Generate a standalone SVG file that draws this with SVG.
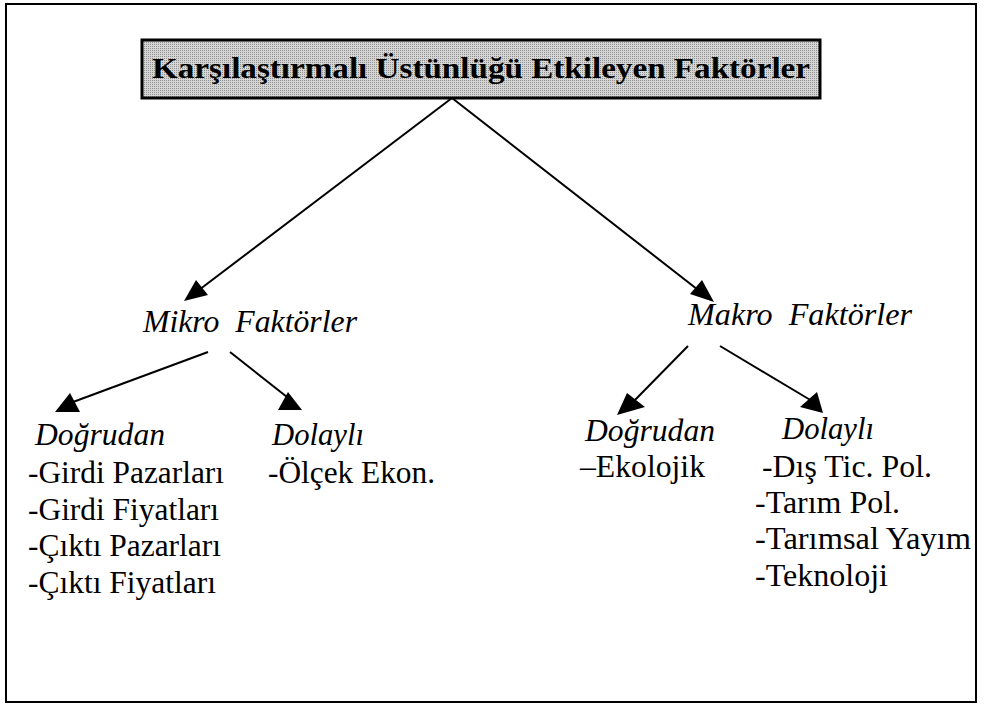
<svg xmlns="http://www.w3.org/2000/svg" width="984" height="707" viewBox="0 0 984 707">
<defs>
<pattern id="stip" width="2" height="2" patternUnits="userSpaceOnUse">
<rect width="2" height="2" fill="#d6d6d6"/>
<rect width="1" height="1" fill="#8e8e8e"/>
</pattern>
</defs>
<style>
.s{font-family:'Liberation Serif','Times New Roman',serif;fill:#000;font-size:31px}
.i{font-style:italic}
.ln{stroke:#000;stroke-width:2;fill:none}
.hd{fill:#000;stroke:none}
</style>
<rect width="984" height="707" fill="#fff"/>
<rect x="6" y="4" width="970" height="698" fill="none" stroke="#000" stroke-width="2"/>
<g id="connectors">
<line class="ln" x1="452" y1="98" x2="195" y2="293"/>
<polygon class="hd" points="184,301 196,280 208,295"/>
<line class="ln" x1="452" y1="98" x2="702" y2="293"/>
<polygon class="hd" points="714,302 690,294 702,280"/>
<line class="ln" x1="208" y1="352" x2="73" y2="402"/>
<polygon class="hd" points="55,412 80,412 70,393"/>
<line class="ln" x1="230" y1="352" x2="287" y2="397"/>
<polygon class="hd" points="278,410 302,410 288,392"/>
<line class="ln" x1="688" y1="346" x2="635" y2="400"/>
<polygon class="hd" points="617,415 627,393 645,407"/>
<line class="ln" x1="720" y1="346" x2="812" y2="401"/>
<polygon class="hd" points="823,413 800,407 817,392"/>
</g>
<g id="title">
<rect x="142" y="40" width="678" height="58" fill="url(#stip)" stroke="#000" stroke-width="3"/>
<text class="s" x="152" y="78" style="font-size:29px" font-weight="bold" textLength="658" lengthAdjust="spacingAndGlyphs">Karşılaştırmalı Üstünlüğü Etkileyen Faktörler</text>
</g>
<g id="mikro">
<text class="s i" x="143" y="332" textLength="214" lengthAdjust="spacingAndGlyphs" xml:space="preserve">Mikro  Faktörler</text>
</g>
<g id="makro">
<text class="s i" x="688" y="325" textLength="224" lengthAdjust="spacingAndGlyphs" xml:space="preserve">Makro  Faktörler</text>
</g>
<g id="mikro-dogrudan">
<text class="s i" x="35" y="445" textLength="130" lengthAdjust="spacingAndGlyphs">Doğrudan</text>
<text class="s" x="28" y="483" textLength="196" lengthAdjust="spacingAndGlyphs">-Girdi Pazarları</text>
<text class="s" x="28" y="520" textLength="191" lengthAdjust="spacingAndGlyphs">-Girdi Fiyatları</text>
<text class="s" x="28" y="556" textLength="193" lengthAdjust="spacingAndGlyphs">-Çıktı Pazarları</text>
<text class="s" x="28" y="593" textLength="188" lengthAdjust="spacingAndGlyphs">-Çıktı Fiyatları</text>
</g>
<g id="mikro-dolayli">
<text class="s i" x="272" y="445" textLength="92" lengthAdjust="spacingAndGlyphs">Dolaylı</text>
<text class="s" x="268" y="483" textLength="167" lengthAdjust="spacingAndGlyphs">-Ölçek Ekon.</text>
</g>
<g id="makro-dogrudan">
<text class="s i" x="585" y="441" textLength="130" lengthAdjust="spacingAndGlyphs">Doğrudan</text>
<text class="s" x="580" y="477" textLength="125" lengthAdjust="spacingAndGlyphs">–Ekolojik</text>
</g>
<g id="makro-dolayli">
<text class="s i" x="782" y="439" textLength="92" lengthAdjust="spacingAndGlyphs">Dolaylı</text>
<text class="s" x="762" y="477" textLength="170" lengthAdjust="spacingAndGlyphs">-Dış Tic. Pol.</text>
<text class="s" x="755" y="513" textLength="145" lengthAdjust="spacingAndGlyphs">-Tarım Pol.</text>
<text class="s" x="755" y="549" textLength="216" lengthAdjust="spacingAndGlyphs">-Tarımsal Yayım</text>
<text class="s" x="755" y="586" textLength="133" lengthAdjust="spacingAndGlyphs">-Teknoloji</text>
</g>
</svg>
